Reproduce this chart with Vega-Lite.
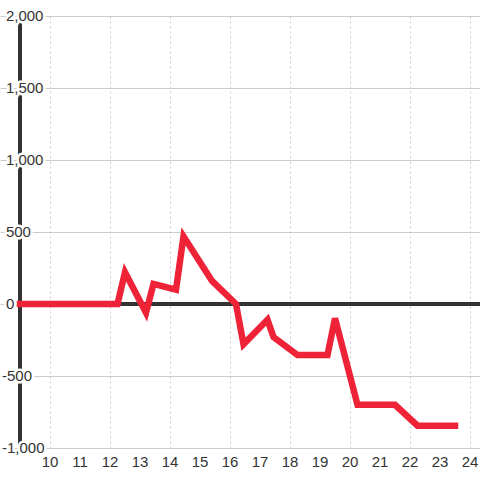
{
  "$schema": "https://vega.github.io/schema/vega-lite/v6.json",
  "width": 480,
  "height": 432,
  "autosize": "none",
  "padding": {"top": 16, "left": 0, "right": 0, "bottom": 32},
  "background": "white",
  "config": {
    "view": {"stroke": null},
    "font": "Liberation Sans",
    "axis": {"domain": false, "ticks": false, "title": null, "labels": false},
    "axisX": {"grid": true, "gridDash": [2,3], "gridColor": "#cccccc", "gridWidth": 1},
    "axisY": {"grid": true, "gridColor": "#cccccc", "gridWidth": 1}
  },
  "datasets": {
    "series": [
      {"hour": 9, "value": 0},
      {"hour": 12.25, "value": 0},
      {"hour": 12.5, "value": 220},
      {"hour": 13.2, "value": -60},
      {"hour": 13.45, "value": 140},
      {"hour": 14.2, "value": 100},
      {"hour": 14.45, "value": 470},
      {"hour": 15.4, "value": 160},
      {"hour": 16.2, "value": 0},
      {"hour": 16.45, "value": -280},
      {"hour": 17.25, "value": -110},
      {"hour": 17.45, "value": -230},
      {"hour": 18.25, "value": -355},
      {"hour": 19.25, "value": -355},
      {"hour": 19.5, "value": -100},
      {"hour": 20.25, "value": -700},
      {"hour": 21.5, "value": -700},
      {"hour": 22.25, "value": -845},
      {"hour": 23.5, "value": -845}
    ],
    "ylabels": [
      {"v": 2000, "t": "2,000"},
      {"v": 1500, "t": "1,500"},
      {"v": 1000, "t": "1,000"},
      {"v": 500, "t": "500"},
      {"v": 0, "t": "0"},
      {"v": -500, "t": "-500"},
      {"v": -1000, "t": "-1,000"}
    ],
    "xlabels": [
      {"h": 10}, {"h": 11}, {"h": 12}, {"h": 13}, {"h": 14}, {"h": 15}, {"h": 16}, {"h": 17},
      {"h": 18}, {"h": 19}, {"h": 20}, {"h": 21}, {"h": 22}, {"h": 23}, {"h": 24}
    ]
  },
  "layer": [
    {
      "data": {"name": "series"},
      "mark": {"type": "line", "opacity": 0},
      "encoding": {
        "x": {"field": "hour", "type": "quantitative",
          "scale": {"domain": [8.3333, 24.3333], "nice": false, "zero": false},
          "axis": {"values": [10,11,12,13,14,15,16,17,18,19,20,21,22,23,24]}},
        "y": {"field": "value", "type": "quantitative",
          "scale": {"domain": [-1000, 2000], "nice": false, "zero": false},
          "axis": {"values": [-1000,-750,-500,-250,0,250,500,750,1000,1250,1500,1750,2000]}}
      }
    },
    {
      "data": {"name": "series"},
      "mark": {"type": "rule", "color": "#333333", "strokeWidth": 3},
      "encoding": {
        "x": {"datum": 9, "type": "quantitative"},
        "y": {"datum": -1000, "type": "quantitative"},
        "y2": {"datum": 2000}
      }
    },
    {
      "data": {"name": "series"},
      "mark": {"type": "rule", "color": "#333333", "strokeWidth": 3},
      "encoding": {
        "y": {"datum": 0, "type": "quantitative"},
        "x": {"datum": 9, "type": "quantitative"},
        "x2": {"datum": 24.3333}
      }
    },
    {
      "data": {"name": "series"},
      "mark": {"type": "line", "color": "#ee2337", "strokeWidth": 6.5, "strokeCap": "square", "strokeJoin": "miter"},
      "encoding": {
        "x": {"field": "hour", "type": "quantitative"},
        "y": {"field": "value", "type": "quantitative"}
      }
    },
    {
      "data": {"name": "xlabels"},
      "mark": {"type": "text", "align": "center", "baseline": "top", "dy": 7, "fontSize": 15, "color": "#333333", "font": "Liberation Sans"},
      "encoding": {
        "x": {"field": "h", "type": "quantitative"},
        "y": {"datum": -1000, "type": "quantitative"},
        "text": {"field": "h", "type": "quantitative", "format": "d"}
      }
    },
    {
      "data": {"name": "ylabels"},
      "transform": [{"filter": "datum.v >= 0"}],
      "layer": [
        {"mark": {"type": "text", "align": "left", "baseline": "middle", "fontSize": 15, "fill": "white", "stroke": "white", "strokeWidth": 5, "strokeJoin": "round", "font": "Liberation Sans"},
         "encoding": {"x": {"datum": 8.53, "type": "quantitative"}, "y": {"field": "v", "type": "quantitative"}, "text": {"field": "t"}}},
        {"mark": {"type": "text", "align": "left", "baseline": "middle", "fontSize": 15, "color": "#333333", "font": "Liberation Sans"},
         "encoding": {"x": {"datum": 8.53, "type": "quantitative"}, "y": {"field": "v", "type": "quantitative"}, "text": {"field": "t"}}}
      ]
    },
    {
      "data": {"name": "ylabels"},
      "transform": [{"filter": "datum.v < 0"}],
      "layer": [
        {"mark": {"type": "text", "align": "left", "baseline": "middle", "fontSize": 15, "fill": "white", "stroke": "white", "strokeWidth": 5, "strokeJoin": "round", "font": "Liberation Sans"},
         "encoding": {"x": {"datum": 8.4, "type": "quantitative"}, "y": {"field": "v", "type": "quantitative"}, "text": {"field": "t"}}},
        {"mark": {"type": "text", "align": "left", "baseline": "middle", "fontSize": 15, "color": "#333333", "font": "Liberation Sans"},
         "encoding": {"x": {"datum": 8.4, "type": "quantitative"}, "y": {"field": "v", "type": "quantitative"}, "text": {"field": "t"}}}
      ]
    }
  ]
}
